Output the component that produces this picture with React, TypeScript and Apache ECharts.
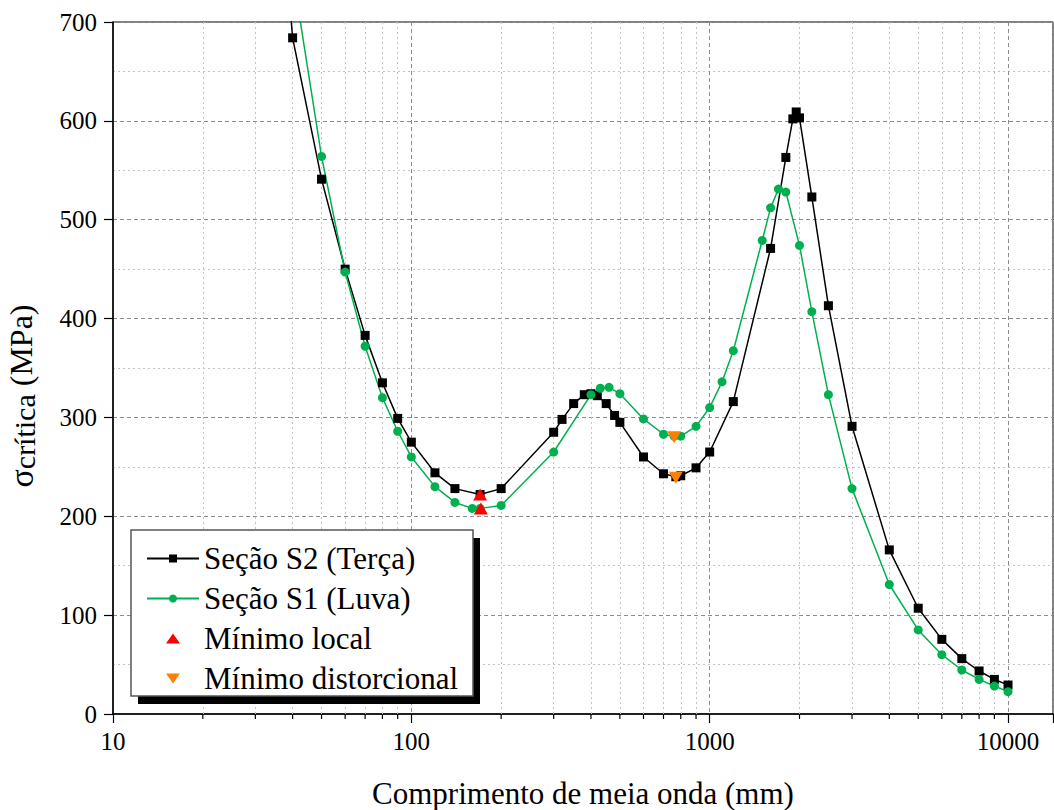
import React, { useEffect, useRef } from 'react';
import * as echarts from 'echarts';

const FONT = 'Liberation Serif';

// Seção S2 (Terça) — half-wavelength (mm) and critical stress (MPa)
const s2Length = [30, 40, 50, 60, 70, 80, 90, 100, 120, 140, 170, 200, 300, 320, 350, 380, 400, 420, 450, 480, 500, 600, 700, 770, 800, 900, 1000, 1200, 1600, 1800, 1900, 1950, 2000, 2200, 2500, 3000, 4000, 5000, 6000, 7000, 8000, 9000, 10000];
const s2Sigma = [1150, 684, 541, 450, 383, 335, 299, 275, 244, 228, 222, 228, 285, 298, 314, 323, 324, 322, 314, 302, 295, 260, 243, 240, 241, 249, 265, 316, 471, 563, 602, 609, 603, 523, 413, 291, 166, 107, 75.5, 56, 43.5, 35, 29.3];

// Seção S1 (Luva)
const s1Length = [30, 40, 50, 60, 70, 80, 90, 100, 120, 140, 160, 170, 200, 300, 400, 430, 460, 500, 600, 700, 760, 800, 900, 1000, 1100, 1200, 1500, 1600, 1700, 1800, 2000, 2200, 2500, 3000, 4000, 5000, 6000, 7000, 8000, 9000, 10000];
const s1Sigma = [1300, 750, 564, 447, 372, 320, 286, 260, 230, 214, 208, 208, 211, 265, 323, 329.5, 330.5, 324, 298.5, 283, 281, 281, 291, 310, 336, 367.5, 479, 512, 531, 528, 474, 407, 323, 228, 131, 85, 60, 44.5, 35, 28.3, 22.6];

// Minimum points
const localMinLength = [170, 171];
const localMinSigma = [222, 208];
const distMinLength = [770, 760];
const distMinSigma = [239, 280];

// Axis
const xMin = 10;
const xMax = 14150;
const xMinor = [20, 30, 40, 50, 60, 70, 80, 90, 200, 300, 400, 500, 600, 700, 800, 900, 2000, 3000, 4000, 5000, 6000, 7000, 8000, 9000];

const UP_TRI = 'path://M0,10L7,0L14,10Z';
const DOWN_TRI = 'path://M0,0L14,0L7,10Z';

const zip = (a: number[], b: number[]) => a.map((v, i) => [v, b[i]]);

export default function App() {
  const ref = useRef<HTMLDivElement>(null);
  useEffect(() => {
    const chart = echarts.init(ref.current!, null, { renderer: 'svg' });
    chart.setOption({
      animation: false,
      backgroundColor: '#fff',
      textStyle: { fontFamily: FONT },
      grid: {
        left: 113, top: 22, width: 940, height: 692,
        outerBoundsMode: 'none', containLabel: false,
        show: true, borderColor: '#000', borderWidth: 1, backgroundColor: 'transparent',
      },
      graphic: [
        { type: 'rect', z: 3, shape: { x: 138, y: 538, width: 342, height: 166 }, style: { fill: '#000' } },
        { type: 'rect', z: 3, shape: { x: 131, y: 530, width: 342, height: 166 }, style: { fill: '#fff', stroke: '#555', lineWidth: 1.5 } },
      ],
      legend: {
        orient: 'vertical', left: 146, top: 543, padding: 0,
        itemWidth: 52, itemHeight: 10, itemGap: 9,
        data: [
          { name: 'Seção S2 (Terça)' },
          { name: 'Seção S1 (Luva)' },
          { name: 'Mínimo local', icon: UP_TRI },
          { name: 'Mínimo distorcional', icon: DOWN_TRI },
        ],
        textStyle: { fontFamily: FONT, fontSize: 31, color: '#000', lineHeight: 30.5 },
        z: 5,
      },
      xAxis: {
        type: 'log', logBase: 10, min: xMin, max: xMax,
        name: 'Comprimento de meia onda (mm)', nameLocation: 'middle', nameGap: 64,
        nameTextStyle: { fontFamily: FONT, fontSize: 31, color: '#000' },
        axisLine: { lineStyle: { color: '#000', width: 1.5 } },
        axisTick: { show: true, length: 9, inside: false, lineStyle: { color: '#000', width: 1.2 } },
        axisLabel: {
          margin: 15, fontFamily: FONT, fontSize: 25, color: '#000',
          formatter: (v: number) => {
            const l = Math.log10(v);
            return Math.abs(l - Math.round(l)) < 1e-6 ? String(Math.round(v)) : '';
          },
        },
        splitLine: { show: true, lineStyle: { color: '#8c8c8c', type: [4, 3], width: 1 } },
      },
      yAxis: {
        type: 'value', min: 0, max: 700, interval: 100,
        name: '{s|σ}{c|crítica}{m| (MPa)}', nameLocation: 'middle', nameRotate: 90, nameGap: 74,
        nameTextStyle: {
          color: '#000', fontFamily: FONT, fontSize: 32,
          padding: [0, 56, 0, 0],
          rich: {
            s: { fontFamily: FONT, fontSize: 34, lineHeight: 36, color: '#000' },
            c: { fontFamily: FONT, fontSize: 30, lineHeight: 16, verticalAlign: 'bottom', color: '#000' },
            m: { fontFamily: FONT, fontSize: 32, lineHeight: 36, color: '#000' },
          },
        },
        axisLine: { show: true, lineStyle: { color: '#000', width: 1.5 } },
        axisTick: { show: true, length: 9, inside: false, lineStyle: { color: '#000', width: 1.2 } },
        axisLabel: { margin: 16, fontFamily: FONT, fontSize: 25, color: '#000' },
        splitLine: { show: true, lineStyle: { color: '#8c8c8c', type: [4, 3], width: 1 } },
        minorTick: { show: false, splitNumber: 2 },
        minorSplitLine: { show: true, lineStyle: { color: '#c4c4c4', type: [2, 3], width: 1 } },
      },
      series: [
        {
          name: 'minor', type: 'scatter', silent: true, clip: false, z: 1,
          data: xMinor.map((v) => [v, 0]),
          symbol: 'rect', symbolSize: [1.2, 5], symbolOffset: [0, 2.5],
          itemStyle: { color: '#000', opacity: 1 },
          markLine: {
            silent: true, symbol: ['none', 'none'], z: 1,
            label: { show: false },
            lineStyle: { color: '#c4c4c4', type: [2, 3], width: 1 },
            emphasis: { disabled: true },
            data: xMinor.map((v) => ({ xAxis: v })),
          },
        },
        {
          name: 'Seção S2 (Terça)', type: 'line', z: 4,
          data: zip(s2Length, s2Sigma),
          symbol: 'rect', symbolSize: 9, showAllSymbol: true,
          lineStyle: { color: '#000', width: 1.5 },
          itemStyle: { color: '#000' },
        },
        {
          name: 'Seção S1 (Luva)', type: 'line', z: 4,
          data: zip(s1Length, s1Sigma),
          symbol: 'circle', symbolSize: 9, showAllSymbol: true,
          lineStyle: { color: '#00b050', width: 1.5 },
          itemStyle: { color: '#00b050' },
        },
        {
          name: 'Mínimo local', type: 'scatter', z: 6,
          data: zip(localMinLength, localMinSigma),
          symbol: UP_TRI, symbolSize: [14, 12],
          itemStyle: { color: '#ff0000', opacity: 1 },
        },
        {
          name: 'Mínimo distorcional', type: 'scatter', z: 6,
          data: zip(distMinLength, distMinSigma),
          symbol: DOWN_TRI, symbolSize: [14, 12],
          itemStyle: { color: '#ff8000', opacity: 1 },
        },
      ],
    });
    return () => chart.dispose();
  }, []);
  return (
    <div
      ref={ref}
      style={{ position: 'absolute', left: 0, top: 0, width: 1054, height: 810, background: '#fff' }}
    />
  );
}
